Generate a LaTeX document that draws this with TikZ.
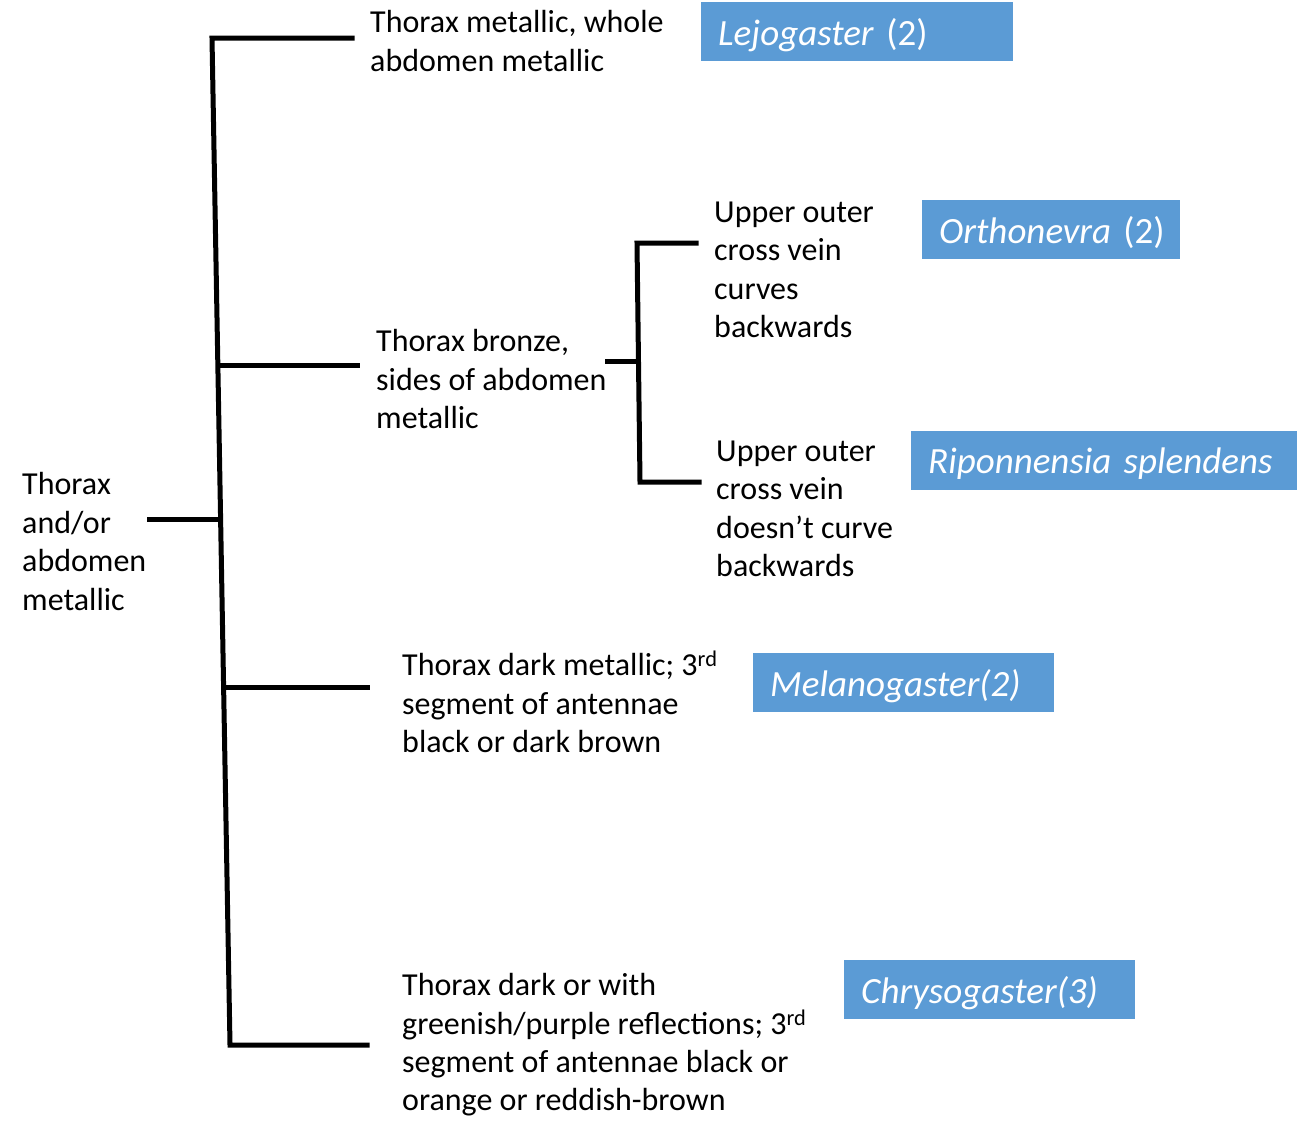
\documentclass[tikz,border=0pt]{standalone}
\usepackage{fontspec}
\setmainfont{Carlito}
\definecolor{boxblue}{HTML}{5B9BD5}
\begin{document}
\begin{tikzpicture}[x=1pt,y=-1pt,
  txt/.style={inner sep=0pt, anchor=west, align=left, font=\fontsize{32}{38.4}\selectfont},
  genbox/.style={fill=boxblue, draw=none, anchor=north west, minimum height=59pt, inner xsep=17pt, inner ysep=0pt, text=white, align=left, text width=#1, font=\fontsize{37}{40}\selectfont, text depth=0pt},
  br/.style={line width=5pt, line cap=rect}]
\useasboundingbox (0,0) rectangle (1301,1120);
% texts
\node[txt] (lejod) at (370,41) {Thorax metallic, whole\\abdomen metallic};
\node[txt] (bronze) at (376,379) {Thorax bronze,\\sides of abdomen\\metallic};
\node[txt] (root) at (22,541.5) {Thorax\\and/or\\abdomen\\metallic};
\node[txt] (curve) at (714,270) {Upper outer\\cross vein\\curves\\backwards};
\node[txt] (nocurve) at (716,509) {Upper outer\\cross vein\\doesn’t curve\\backwards};
\node[txt] (darkm) at (402,702) {Thorax dark metallic; 3\textsuperscript{rd}\\segment of antennae\\black or dark brown};
\node[txt] (darkg) at (402,1045) {Thorax dark or with\\greenish/purple reflections; 3\textsuperscript{rd}\\segment of antennae black or\\orange or reddish-brown};
% boxes
\node[genbox=278pt] (lejo) at (701,2) {\mbox{\textit{Lejogaster\/}\ (2)}};
\node[genbox=224pt] (ortho) at (922,200) {\mbox{\textit{Orthonevra\/}\ (2)}};
\node[genbox=352pt] (ripo) at (911,431) {\mbox{\textit{Riponnensia splendens}}};
\node[genbox=267pt] (mela) at (753,653) {\mbox{\textit{Melanogaster(2)}}};
\node[genbox=257pt] (chry) at (844,960) {\mbox{\textit{Chrysogaster(3)}}};
% bracket coordinates
\coordinate (mtop) at (212,38);
\coordinate (m2) at (218,365);
\coordinate (mroot) at (220,519);
\coordinate (m4) at (228,687);
\coordinate (mbot) at (230,1045);
\coordinate (rootend) at (149,519);
\coordinate (e1) at (352,38);
\coordinate (e2) at (357,365);
\coordinate (e4) at (367,687);
\coordinate (e5) at (367,1045);
\coordinate (stop) at (637,243);
\coordinate (smid) at (638.5,361);
\coordinate (sbot) at (640,482);
\coordinate (sstem) at (607,361);
\coordinate (se1) at (696,243);
\coordinate (se2) at (699,482);
% brackets
\draw[br] (e1) -- (mtop) -- (mbot) -- (e5);
\draw[br] (m2) -- (e2);
\draw[br] (rootend) -- (mroot);
\draw[br] (m4) -- (e4);
\draw[br] (se1) -- (stop) -- (sbot) -- (se2);
\draw[br] (sstem) -- (smid);
\end{tikzpicture}
\end{document}
